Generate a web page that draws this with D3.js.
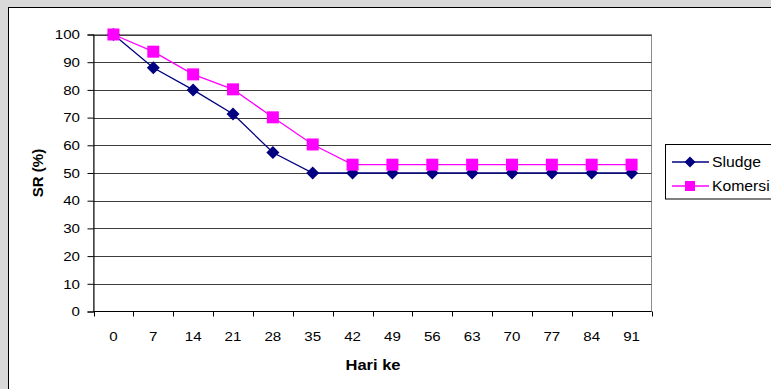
<!DOCTYPE html>
<html><head><meta charset="utf-8">
<script src="https://cdn.jsdelivr.net/npm/d3@7"></script>
<style>body{margin:0;background:#d9d9d9;}svg{display:block;}</style>
</head><body>
<svg id="c" width="771" height="389"></svg>
<script>
const categories = ["0","7","14","21","28","35","42","49","56","63","70","77","84","91"];
const sludge = [100, 88, 80, 71.3, 57.4, 50, 50, 50, 50, 50, 50, 50, 50, 50];
const komersi = [100, 93.8, 85.6, 80.2, 70.1, 60.3, 53, 53, 53, 53, 53, 53, 53, 53];
const yTicks = [0,10,20,30,40,50,60,70,80,90,100];
const seriesNames = ["Sludge", "Komersi"];

const svg = d3.select("#c");
const font = "'Liberation Sans', Arial, sans-serif";
svg.append("rect").attr("width",771).attr("height",389).attr("fill","#d9d9d9");
svg.append("rect").attr("x",8.5).attr("y",7.5).attr("width",800).attr("height",400)
  .attr("fill","#fff").attr("stroke","#000").attr("stroke-width",1);

const L=93.5, R=651.5, T=34.5, B=311.5;
const x = d3.scaleBand().domain(categories).range([L,R]).padding(0);
const y = d3.scaleLinear().domain([0,100]).range([B,T]);

// stretched text helper
function stext(g, tx, ty, str, size, sx, anchor, bold, dy){
  return g.append("text")
    .attr("transform",`translate(${tx},${ty}) scale(${sx},1)`)
    .attr("text-anchor",anchor||"start").attr("dy",dy||0)
    .attr("font-family",font).attr("font-size",size)
    .attr("font-weight",bold?"bold":"normal").attr("fill","#000").text(str);
}

// plot area border
svg.append("rect").attr("x",L).attr("y",T).attr("width",R-L).attr("height",B-T)
  .attr("fill","none").attr("stroke","#8c8c8c");

// gridlines
svg.append("g").selectAll("line").data(yTicks.filter(d=>d>0)).join("line")
  .attr("x1",L).attr("x2",R).attr("y1",d=>Math.round(y(d))+0.5).attr("y2",d=>Math.round(y(d))+0.5)
  .attr("stroke","#3c3c3c").attr("stroke-width",1);

// y axis
const ya = svg.append("g").attr("transform",`translate(${L},0)`)
  .call(d3.axisLeft(y).tickValues(yTicks).tickSize(6).tickFormat(""));
ya.select(".domain").attr("stroke","#000");
ya.selectAll(".tick line").attr("stroke","#000");
const yl = svg.append("g");
yTicks.forEach(t=>stext(yl, 80, y(t), String(t), 13.5, 1.12, "end", false, "0.35em"));

// x axis: ticks at band boundaries
const xa = svg.append("g").attr("transform",`translate(0,${B})`);
xa.append("line").attr("x1",L).attr("x2",R).attr("stroke","#000");
const bounds = categories.map(c=>x(c)).concat([R]);
xa.selectAll("line.t").data(bounds).join("line").attr("class","t")
  .attr("x1",d=>Math.round(d)+0.5).attr("x2",d=>Math.round(d)+0.5).attr("y1",0).attr("y2",5).attr("stroke","#000");
const xl = svg.append("g");
categories.forEach(c=>stext(xl, x(c)+x.bandwidth()/2, 340.5, c, 13.5, 1.12, "middle"));

// axis titles
stext(svg, 373, 370, "Hari ke", 14, 1.18, "middle", true);
svg.append("text").attr("transform",`translate(43,${(T+B)/2}) rotate(-90)`).attr("text-anchor","middle")
  .attr("font-family",font).attr("font-size",15).attr("font-weight","bold").text("SR (%)");

const cx = d=>x(d)+x.bandwidth()/2;
const line = d3.line().x((d,i)=>cx(categories[i])).y(d=>y(d));

function diamond(g, px, py, r){
  g.append("path").attr("d",`M${px},${py-r}L${px+r},${py}L${px},${py+r}L${px-r},${py}Z`).attr("fill","#000080");
}
function square(g, px, py, s){
  g.append("rect").attr("x",px-s/2).attr("y",py-s/2).attr("width",s).attr("height",s).attr("fill","#ff00ff");
}

// Sludge line
svg.append("path").datum(sludge).attr("d",line).attr("fill","none").attr("stroke","#000080").attr("stroke-width",1.3);
const gs = svg.append("g");
sludge.forEach((v,i)=>diamond(gs, cx(categories[i]), y(v), 6.5));
// Komersi line
svg.append("path").datum(komersi).attr("d",line).attr("fill","none").attr("stroke","#ff00ff").attr("stroke-width",1.3);
const gk = svg.append("g");
komersi.forEach((v,i)=>square(gk, cx(categories[i]), y(v), 12));

// legend
const lg = svg.append("g");
lg.append("rect").attr("x",665.5).attr("y",144.5).attr("width",200).attr("height",54.5)
  .attr("fill","#fff").attr("stroke","#000");
lg.append("line").attr("x1",672).attr("x2",709).attr("y1",162).attr("y2",162).attr("stroke","#000080").attr("stroke-width",1.3);
diamond(lg, 690, 162, 5.5);
lg.append("line").attr("x1",672).attr("x2",709).attr("y1",186).attr("y2",186).attr("stroke","#ff00ff").attr("stroke-width",1.3);
square(lg, 690, 186, 10);
stext(lg, 712, 166.5, seriesNames[0], 15, 1.05, "start");
stext(lg, 712, 191, seriesNames[1], 15, 1.05, "start");
</script>
</body></html>
